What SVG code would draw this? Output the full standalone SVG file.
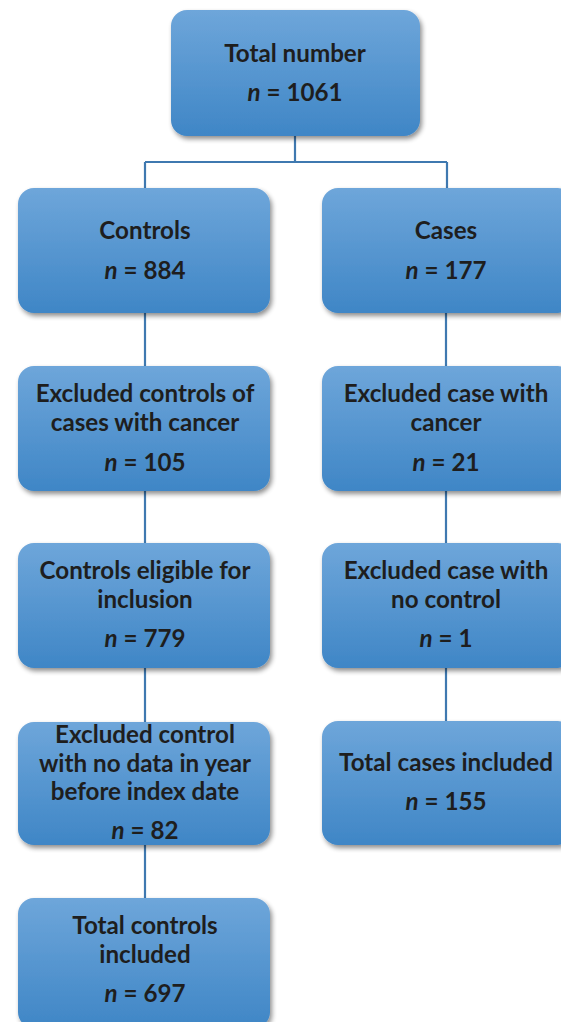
<svg xmlns="http://www.w3.org/2000/svg" width="561" height="1022" viewBox="0 0 561 1022">
<style>
.box{fill:url(#g);filter:url(#sh)}
.t{font-family:Lato,"Open Sans","Liberation Sans",sans-serif;font-weight:bold;font-size:24.2px;fill:#1e1e1e;text-anchor:middle}
.i{font-style:italic}
.c{stroke:#3f79b0;stroke-width:2.2;fill:none}
</style>
<defs>
<linearGradient id="g" x1="0" y1="0" x2="0" y2="1">
<stop offset="0" stop-color="#6ea6da"/>
<stop offset="1" stop-color="#3f86c6"/>
</linearGradient>
<filter id="sh" x="-10%" y="-10%" width="125%" height="130%">
<feGaussianBlur in="SourceAlpha" stdDeviation="2.5"/>
<feOffset dx="2" dy="3" result="b"/>
<feComponentTransfer><feFuncA type="linear" slope="0.45"/></feComponentTransfer>
<feMerge><feMergeNode/><feMergeNode in="SourceGraphic"/></feMerge>
</filter>
</defs>
<g id="connectors">
<path class="c" d="M295 136V162M145 162H447M145 162V188M447 162V188"/>
<path class="c" d="M145 313V366M145 491V543M145 668V722M145 845V898"/>
<path class="c" d="M446 313V366M446 491V543M446 668V721"/>
</g>
<g id="n0"><rect class="box" x="171" y="10" width="249" height="126" rx="16"/>
<text class="t" x="295" y="62">Total number</text>
<text class="t" x="295" y="101"><tspan class="i">n</tspan> = 1061</text></g>
<g id="n1"><rect class="box" x="18" y="188" width="252" height="125" rx="16"/>
<text class="t" x="145" y="239">Controls</text>
<text class="t" x="145" y="279"><tspan class="i">n</tspan> = 884</text></g>
<g id="n2"><rect class="box" x="322" y="188" width="252" height="125" rx="16"/>
<text class="t" x="446" y="239">Cases</text>
<text class="t" x="446" y="279"><tspan class="i">n</tspan> = 177</text></g>
<g id="n3"><rect class="box" x="18" y="366" width="252" height="125" rx="16"/>
<text class="t" x="145" y="402">Excluded controls of</text>
<text class="t" x="145" y="431">cases with cancer</text>
<text class="t" x="145" y="471"><tspan class="i">n</tspan> = 105</text></g>
<g id="n4"><rect class="box" x="322" y="366" width="252" height="125" rx="16"/>
<text class="t" x="446" y="402">Excluded case with</text>
<text class="t" x="446" y="431">cancer</text>
<text class="t" x="446" y="471"><tspan class="i">n</tspan> = 21</text></g>
<g id="n5"><rect class="box" x="18" y="543" width="252" height="125" rx="16"/>
<text class="t" x="145" y="579">Controls eligible for</text>
<text class="t" x="145" y="608">inclusion</text>
<text class="t" x="145" y="647"><tspan class="i">n</tspan> = 779</text></g>
<g id="n6"><rect class="box" x="322" y="543" width="252" height="125" rx="16"/>
<text class="t" x="446" y="579">Excluded case with</text>
<text class="t" x="446" y="608">no control</text>
<text class="t" x="446" y="647"><tspan class="i">n</tspan> = 1</text></g>
<g id="n7"><rect class="box" x="18" y="722" width="252" height="123" rx="16"/>
<text class="t" x="145" y="743">Excluded control</text>
<text class="t" x="145" y="772">with no data in year</text>
<text class="t" x="145" y="800">before index date</text>
<text class="t" x="145" y="839"><tspan class="i">n</tspan> = 82</text></g>
<g id="n8"><rect class="box" x="322" y="721" width="252" height="124" rx="16"/>
<text class="t" x="446" y="771">Total cases included</text>
<text class="t" x="446" y="810"><tspan class="i">n</tspan> = 155</text></g>
<g id="n9"><rect class="box" x="18" y="898" width="252" height="130" rx="16"/>
<text class="t" x="145" y="934">Total controls</text>
<text class="t" x="145" y="963">included</text>
<text class="t" x="145" y="1002"><tspan class="i">n</tspan> = 697</text></g>
</svg>
